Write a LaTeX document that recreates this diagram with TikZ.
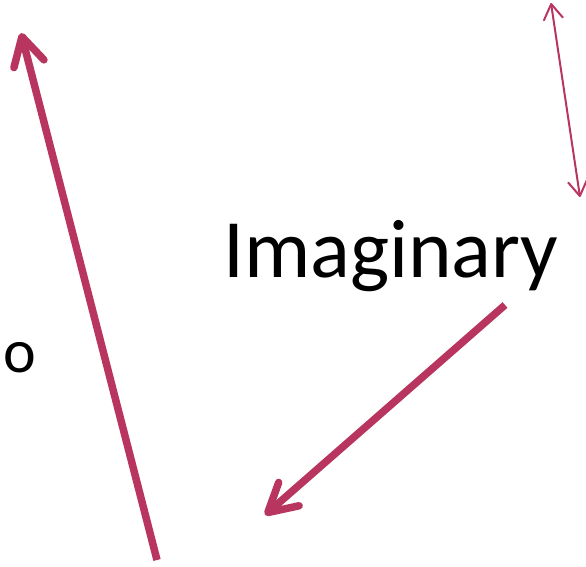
\documentclass[tikz,border=0pt]{standalone}
\usepackage{fontspec}
\setmainfont{Carlito}
\usetikzlibrary{arrows.meta}
\definecolor{arr}{RGB}{184,53,96}
\tikzset{
  bigarrow/.style={draw=arr, line width=7.5pt, -{Straight Barb[length=28pt,width=31pt,round]}},
  thinarrow/.style={draw=arr, line width=2pt, {Straight Barb[length=15pt,width=19pt,round]}-{Straight Barb[length=15pt,width=19pt,round]}},
  lbl/.style={inner sep=0pt, anchor=base west, text=black}
}
\begin{document}
\begin{tikzpicture}[x=1pt,y=-1pt]
\useasboundingbox (0,0) rectangle (586,566);
\node[lbl, font=\fontsize{83}{90}\selectfont] (imag) at (223,277) {Imaginary};
\node[lbl, font=\fontsize{62}{70}\selectfont] (o) at (3,372) {o};
\coordinate (a1) at (157,560);
\coordinate (a2) at (21,33);
\coordinate (b1) at (505,305);
\coordinate (b2) at (265,515);
\coordinate (c1) at (551,3);
\coordinate (c2) at (580,197);
\draw[bigarrow] (a1) -- (a2);
\draw[bigarrow] (b1) -- (b2);
\draw[thinarrow] (c1) -- (c2);
\end{tikzpicture}
\end{document}
